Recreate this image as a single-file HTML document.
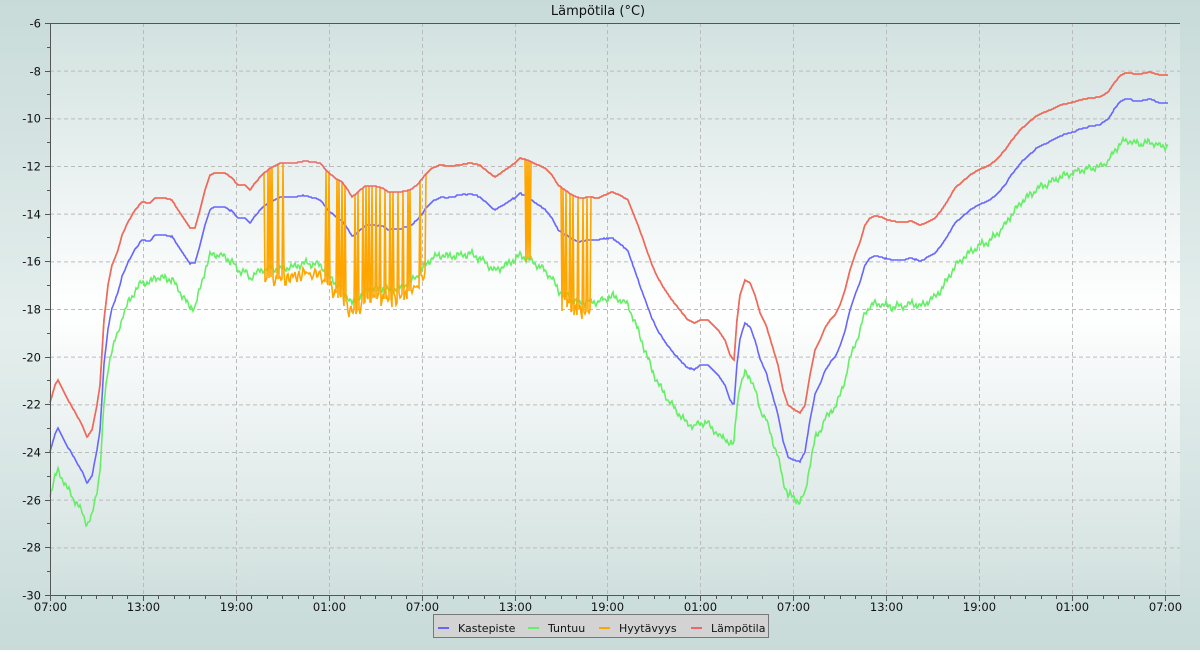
<!DOCTYPE html>
<html><head><meta charset="utf-8"><style>
html,body{margin:0;padding:0;}
body{width:1200px;height:650px;overflow:hidden;font-family:"DejaVu Sans","Liberation Sans",sans-serif;}
</style></head><body>
<svg id="s" width="1200" height="650" xmlns="http://www.w3.org/2000/svg" font-family="DejaVu Sans, Liberation Sans, sans-serif">
<defs>
<linearGradient id="bg" x1="0" y1="0" x2="0" y2="1">
<stop offset="0" stop-color="#c8dbd9"/><stop offset="0.5" stop-color="#e4eeed"/><stop offset="1" stop-color="#c8dbd9"/>
</linearGradient>
<linearGradient id="pl" x1="0" y1="0" x2="0" y2="1">
<stop offset="0" stop-color="#d2e2e0"/><stop offset="0.5" stop-color="#ffffff"/><stop offset="1" stop-color="#d0e0de"/>
</linearGradient>
</defs>
<rect width="1200" height="650" fill="url(#bg)"/>
<rect x="50" y="23" width="1130" height="572" fill="url(#pl)"/>
<g id="grid" stroke="#bbbbbb" stroke-dasharray="4,3" stroke-width="1"></g>
<g id="series" fill="none" stroke-width="1.6" stroke-linejoin="miter"></g>
<g id="axes" stroke="#555" stroke-width="1"></g>
<g id="labels" font-size="11.5" fill="#111"></g>
<text x="598" y="15" font-size="13" text-anchor="middle" fill="#111">Lämpötila (°C)</text>
<rect x="433.5" y="614.5" width="335" height="23" fill="#d3d3d3" stroke="#777"/>
<g font-size="11" fill="#111">
<line x1="438" y1="628" x2="449" y2="628" stroke="#6666ff" stroke-width="2"/><text x="458" y="632">Kastepiste</text>
<line x1="528" y1="628" x2="539" y2="628" stroke="#66ee66" stroke-width="2"/><text x="548" y="632">Tuntuu</text>
<line x1="599" y1="628" x2="610" y2="628" stroke="#ffa500" stroke-width="2"/><text x="619" y="632">Hyytävyys</text>
<line x1="691" y1="628" x2="702" y2="628" stroke="#ee6666" stroke-width="2"/><text x="711" y="632">Lämpötila</text>
</g>
</svg>
<script>
var NS="http://www.w3.org/2000/svg";
function el(p,t,a,txt){var e=document.createElementNS(NS,t);for(var k in a)e.setAttribute(k,a[k]);if(txt!==undefined)e.textContent=txt;document.getElementById(p).appendChild(e);return e;}
function Y(v){return 23+(-6-v)*23.833;}
var X0=50,DX=92.9;
for(var v=-8;v>=-28;v-=2){el("grid","line",{x1:50,x2:1180,y1:Y(v)+.5,y2:Y(v)+.5});}
for(var i=1;i<=12;i++){var x=Math.round(X0+i*DX)+.5;el("grid","line",{x1:x,x2:x,y1:23,y2:595});}
el("axes","line",{x1:50.5,x2:50.5,y1:23,y2:595});
el("axes","line",{x1:50,x2:1180,y1:23.5,y2:23.5});
el("axes","line",{x1:50,x2:1180,y1:595.5,y2:595.5});
for(var v=-6;v>=-30;v--){var y=Math.round(Y(v))+.5;el("axes","line",{x1:v%2==0?45:47,x2:50,y1:y,y2:y});
 if(v%2==0)el("labels","text",{x:41,y:y+4,"text-anchor":"end"},String(v));}
var hrs=["07:00","13:00","19:00","01:00"];
for(var h=0;h<=73;h++){var x=Math.round(X0+h*DX/6)+.5;if(x>1180)break;el("axes","line",{x1:x,x2:x,y1:595,y2:h%6==0?601:599});
 if(h%6==0)el("labels","text",{x:x,y:611,"text-anchor":"middle"},hrs[(h/6)%4]);}
var R=[[50,403],[55,385],[58,380],[62,388],[68,400],[75,412],[82,425],[87,437],[92,430],[97,405],[100,385],[104,320],[108,285],[112,265],[118,250],[122,235],[128,222],[135,210],[142,202],[150,203],[155,198],[165,198],[172,200],[178,210],[185,220],[190,228],[195,228],[200,210],[205,190],[210,175],[215,173],[225,173],[232,178],[238,185],[245,185],[250,190],[255,183],[262,175],[270,168],[280,163],[295,163],[305,161],[320,163],[328,172],[335,178],[342,182],[348,190],[352,197],[358,192],[365,186],[375,186],[383,188],[388,192],[400,192],[410,190],[418,184],[425,175],[432,168],[440,165],[450,166],[460,165],[470,163],[480,165],[488,172],[495,177],[505,170],[515,163],[520,158],[528,160],[538,165],[545,168],[552,175],[558,185],[565,190],[572,195],[580,198],[590,197],[598,198],[605,195],[612,192],[620,195],[628,200],[632,210],[638,225],[645,245],[652,265],[658,278],[665,290],[672,300],[680,310],[688,320],[695,323],[700,320],[708,320],[713,325],[718,330],[725,340],[730,355],[734,360],[737,320],[740,295],[745,280],[750,283],[755,295],[760,313],[766,325],[772,345],[778,365],[783,390],[788,405],[795,410],[800,413],[805,405],[810,375],[815,350],[820,340],[825,328],[830,320],[835,315],[840,305],[845,290],[850,270],[855,255],[860,242],[865,225],[870,218],[875,216],[882,217],[888,220],[898,222],[905,222],[912,221],[920,225],[928,222],[935,218],[940,212],[948,200],[955,188],[962,182],[970,175],[978,170],[990,165],[998,158],[1005,150],[1012,140],[1020,130],[1028,123],[1035,117],[1042,113],[1050,110],[1060,105],[1070,103],[1080,100],[1090,98],[1100,97],[1108,92],[1115,82],[1120,76],[1125,73],[1140,74],[1150,72],[1160,75],[1168,75]];
var OB=[[50,49],[100,45],[143,38],[200,35],[240,33],[300,34],[330,38],[360,40],[420,35],[460,30],[520,35],[560,45],[600,42],[640,55],[680,50],[700,45],[730,45],[745,43],[790,52],[810,45],[850,40],[880,40],[930,35],[1000,35],[1070,30],[1120,26],[1168,28]];
var OG=[[50,43],[100,40],[143,42],[200,44],[250,55],[280,72],[320,65],[350,68],[420,55],[460,60],[520,62],[560,60],[600,62],[640,50],[680,55],[720,60],[735,37],[742,50],[760,50],[790,37],[830,50],[870,48],[920,45],[1000,40],[1168,43]];
function interp(P,x){if(x<=P[0][0])return P[0][1];for(var i=1;i<P.length;i++){if(x<=P[i][0]){var a=P[i-1],b=P[i];return a[1]+(b[1]-a[1])*(x-a[0])/(b[0]-a[0]);}}return P[P.length-1][1];}
var r=[],b=[],g=[],o=[];
function noise(x,s){return Math.round(Math.sin(x*1.7)*s+Math.sin(x*0.53)*s);}
var spikes=[268,270,272,278,283,326,329,337,339,342,345,355,358,363,366,369,372,376,380,385,390,393,398,403,408,410,420,563,566,570,573,578,583,587];
for(var x=50;x<=1168;x++){
 var ry=Math.round(interp(R,x)),by=Math.round(ry+interp(OB,x)),gy=Math.round(by+interp(OG,x)+noise(x,2));
 r.push(x+","+ry);b.push(x+","+by);g.push(x+","+gy);
 var oy=ry;
 if((x>=265&&x<=425)||(x>=562&&x<=590)){oy=gy+10+noise(x*3,3);if(spikes.indexOf(x)>=0)oy=ry;}
 if(x>=526&&x<=530)oy=(x%2)?ry:gy;
 o.push(x+","+oy);
}
el("series","polyline",{points:b.join(" "),stroke:"#6666ff"});
el("series","polyline",{points:g.join(" "),stroke:"#66ee66"});
el("series","polyline",{points:o.join(" "),stroke:"#ffa500"});
el("series","polyline",{points:r.join(" "),stroke:"#ee6666"});
</script>
</body></html>
